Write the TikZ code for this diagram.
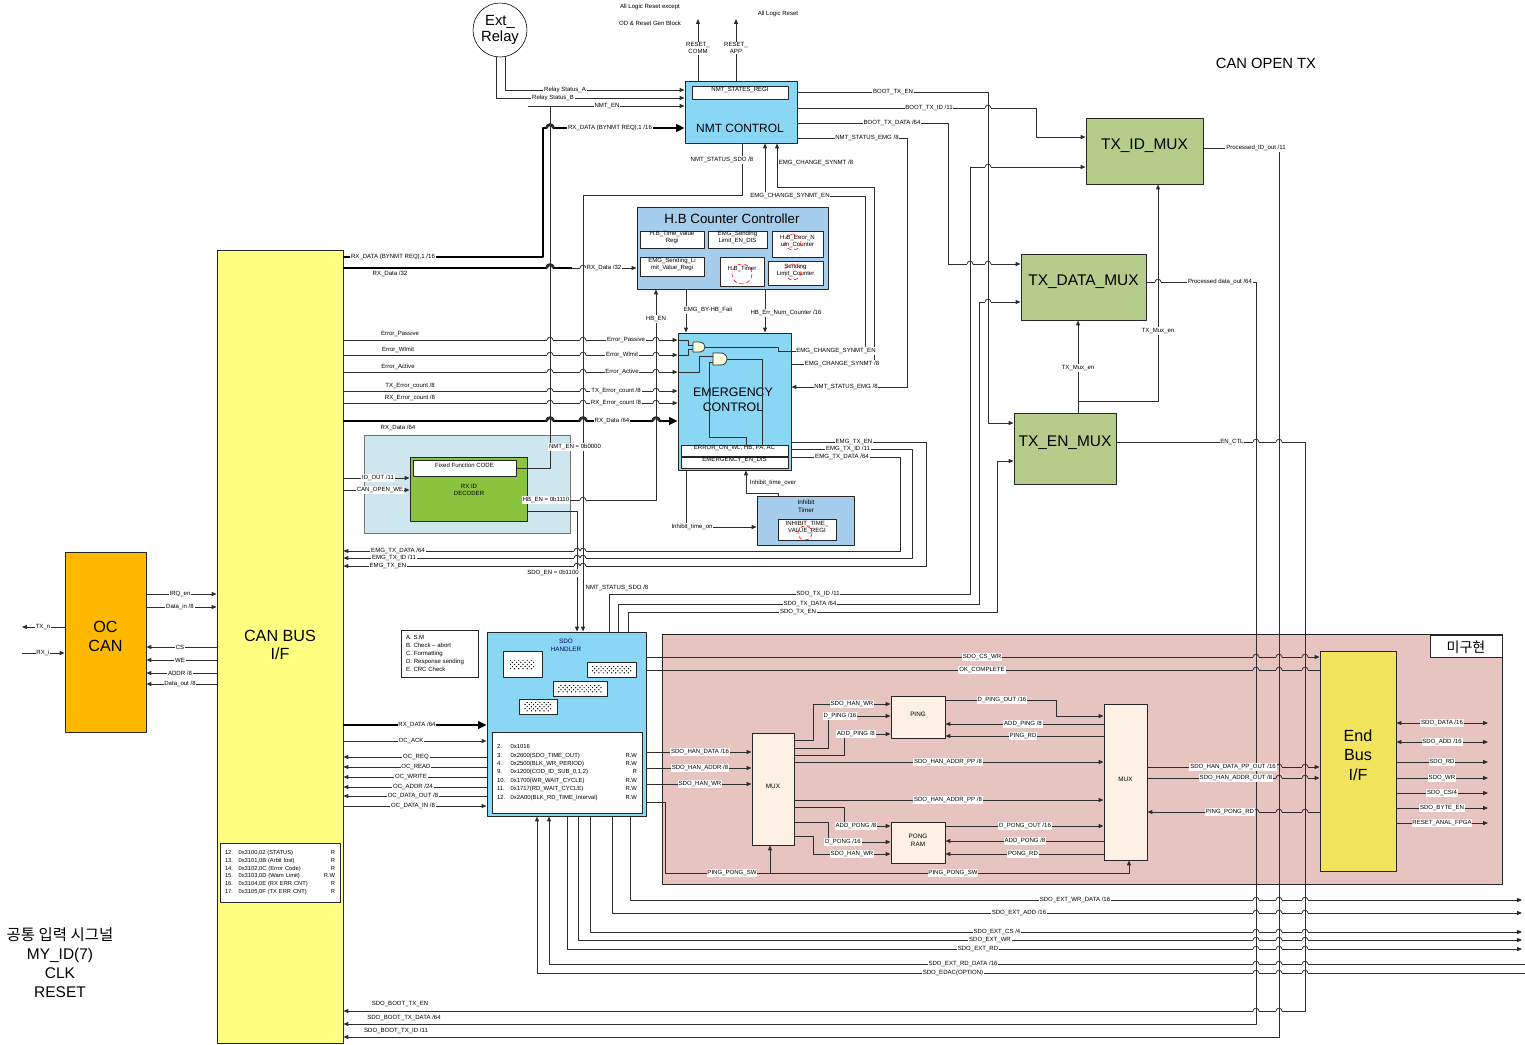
\documentclass[tikz,border=0pt]{standalone}
\usepackage{fontspec}
\setmainfont{Liberation Sans}
\newfontfamily\krfont{Noto Sans CJK KR}
\usetikzlibrary{arrows.meta,positioning,fit,patterns}
\definecolor{nmtblue}{RGB}{138,214,245}
\definecolor{hbblue}{RGB}{166,206,236}
\definecolor{decbg}{RGB}{206,231,238}
\definecolor{decgreen}{RGB}{138,196,62}
\definecolor{muxgreen}{RGB}{181,204,138}
\definecolor{canyellow}{RGB}{255,255,128}
\definecolor{ocorange}{RGB}{255,184,0}
\definecolor{pinkbg}{RGB}{232,196,192}
\definecolor{ramcream}{RGB}{253,240,228}
\definecolor{endyellow}{RGB}{242,228,92}
\definecolor{wirec}{RGB}{45,45,45}
\newcommand{\hop}[3][white]{%
  \fill[#1] (#2-2.9,#3-1.6) rectangle (#2+2.9,#3+1.6);
  \draw[wire] (#2,#3-2.2) -- (#2,#3+2.2);
  \draw[wire] (#2-2.9,#3) arc[start angle=180,end angle=360,radius=2.9];}
\newcommand{\bhop}[2]{%
  \fill[white] (#1-3.4,#2-2.4) rectangle (#1+3.4,#2+2.4);
  \draw[wire] (#1,#2-3) -- (#1,#2+3);
  \draw[wire,line width=2pt] (#1-3.4,#2) arc[start angle=180,end angle=360,radius=3.4];}
\newcommand{\nr}[1]{\makebox[3.4mm][l]{#1}}

\begin{document}
\begin{tikzpicture}[x=0.25mm,y=-0.25mm,line join=round,
  >={Triangle[length=3.4pt,width=2.8pt]},
  blk/.style={draw=black!85,line width=0.7pt,inner sep=0pt,align=center},
  reg/.style={blk,fill=white,line width=0.5pt,font=\fontsize{4.3}{5}\selectfont},
  big/.style={font=\fontsize{11}{13}\selectfont,align=center,inner sep=0pt},
  sig/.style={font=\fontsize{4.3}{5}\selectfont,fill=white,inner sep=0.6pt,align=center},
  txt/.style={font=\fontsize{4.3}{5}\selectfont,inner sep=0.6pt,align=center},
  wire/.style={draw=wirec,line width=0.55pt},
  bus/.style={draw=black,line width=2pt,-{Triangle[length=6pt,width=5.5pt]}},
  hatch/.style={pattern=crosshatch dots,pattern color=black,inner sep=0pt}
]
\useasboundingbox (0,0) rectangle (1525,1044);

% backgrounds
\node[blk,fill=pinkbg,fit={(662,634) (1502,884)}] (pink) {};
\node[blk,fill=white,line width=0.5pt,fit={(1430,635) (1502,657)}] (mgh) {};
\node[font={\krfont\fontsize{10}{11}\selectfont},inner sep=0pt] (mght) at (1466,647) {미구현};
\node[blk,fill=decbg,draw=black!55,fit={(364,435) (570,533)}] (decbox) {};

% NMT control
\node[blk,fill=nmtblue,fit={(685,81) (797,143)}] (nmt) {};
\node[reg,fit={(692,86) (788,99)}] (nmtreg) {NMT\_STATES\_REGI};
\node[font=\fontsize{8.5}{10}\selectfont] (nmtt) at (740,128) {NMT CONTROL};
\node[draw,circle,minimum size=13.5mm,inner sep=0pt,align=center,font=\fontsize{10.5}{11.5}\selectfont] (relay) at (500,30) {Ext\_\\Relay};
\node[txt] (rst1) at (650,7) {All Logic Reset except};
\node[txt] (rst2) at (650,23) {OD \& Reset Gen Block};
\node[txt] (rst3) at (778,14) {All Logic Reset};
\coordinate (rstcomm) at (698,19);
\coordinate (rstapp) at (736,19);
\coordinate (nmtstub) at (528,106);

% TX muxes
\node[blk,fill=muxgreen,fit={(1086,118) (1203,184)},big] (txid) {TX\_ID\_MUX};
\node[blk,fill=muxgreen,fit={(1021,254) (1146,320)},big] (txdata) {TX\_DATA\_MUX};
\node[blk,fill=muxgreen,fit={(1014,413) (1116,484)},big] (txen) {TX\_EN\_MUX};
\node[font=\fontsize{10.5}{12}\selectfont] (cot) at (1266,63) {CAN OPEN TX};

% H.B counter
\node[blk,fill=hbblue,fit={(637,207) (828,289)}] (hb) {};
\node[font=\fontsize{9.5}{11}\selectfont] (hbt) at (732,219) {H.B Counter Controller};
\node[reg,fit={(640,231) (704,248)}] (hbtime) {H.B\_Time\_value\\Regi};
\node[reg,fit={(708,231) (767,248)}] (hbemgen) {EMG\_Sending\\Limit\_EN\_DIS};
\node[reg,fit={(772,231) (823,257)}] (hberr) {H.B\_Error\_N\\um\_Counter};
\node[reg,fit={(640,257) (704,276)}] (hbemgval) {EMG\_Sending\_Li\\mit\_Value\_Regi};
\node[reg,fit={(720,257) (764,286)}] (hbtimer) {H.B\_Timer};
\node[reg,fit={(768,261) (823,285)}] (hbsend) {Sending\\Limit\_Counter};
\draw[red,densely dashed,line width=0.4pt] (793,242) circle[radius=8];
\draw[red,densely dashed,line width=0.4pt] (742,274) circle[radius=10];
\draw[red,densely dashed,line width=0.4pt] (793,272) circle[radius=8];

% emergency control
\node[blk,fill=nmtblue,fit={(678,333) (791,470)}] (emg) {};
\node[font=\fontsize{8.8}{11}\selectfont,align=center] (emgt) at (733,400) {EMERGENCY\\CONTROL};
\node[reg,fit={(681,445) (788,456)}] (emgerr) {ERROR\_ON\_WL, HB, PA, AC};
\node[reg,fit={(681,457) (788,468)}] (emgen) {EMERGENCY\_EN\_DIS};
\node[blk,fill=hbblue,fit={(757,496) (854,545)}] (inh) {};
\node[txt,font=\fontsize{4.5}{5.5}\selectfont] (inht) at (806,506) {Inhibit\\Timer};
\node[reg,fit={(778,519) (836,540)}] (inhreg) {INHIBIT\_TIME\_\\VALUE\_REGI};
\draw[red,densely dashed,line width=0.4pt] (805,533) circle[radius=7];

% rx id decoder
\node[blk,fill=decgreen,fit={(410,457) (527,521)}] (dec) {};
\node[reg,fit={(413,460) (516,476)}] (decfix) {Fixed Function CODE};
\node[txt] (dect) at (469,490) {RX ID\\DECODER};

% can bus and oc can
\node[blk,fill=canyellow,fit={(217,250) (343,1043)}] (canbus) {};
\node[big,font=\fontsize{11.5}{13}\selectfont] (canbust) at (280,645) {CAN BUS\\I/F};
\node[blk,fill=white,line width=0.5pt,fit={(220,843) (340,902)}] (canreg) {};
\node[txt,align=left,text width=27.5mm,font=\fontsize{4.1}{5.6}\selectfont] (canregt) at (canreg.center) {\nr{12.}0x3100,02 (STATUS)\hfill R\\\nr{13.}0x3101,0B (Arbit lost)\hfill R\\\nr{14.}0x3102,0C (Error Code)\hfill R\\\nr{15.}0x3103,0D (Warn Limit)\hfill R.W\\\nr{16.}0x3104,0E (RX ERR CNT)\hfill R\\\nr{17.}0x3105,0F (TX ERR CNT)\hfill R};
\node[blk,fill=ocorange,fit={(65,552) (146,732)},big,font=\fontsize{11.5}{13}\selectfont] (occan) {OC\\CAN};
\node[align=center,font=\fontsize{11}{13.5}\selectfont] (common) at (60,963) {{\krfont 공통 입력 시그널}\\MY\_ID(7)\\CLK\\RESET};
\coordinate (txn) at (22,627);
\coordinate (rxi) at (22,653);

% sdo handler
\node[blk,fill=nmtblue,fit={(487,632) (646,816)}] (sdo) {};
\node[txt,font=\fontsize{4.5}{5.5}\selectfont,text=blue!35!black] (sdot) at (566,645) {SDO\\HANDLER};
\node[reg,fit={(503,651) (542,677)}] (sdoa) {};
\node[hatch,fit={(510,660) (535,669)}] (sdoah) {};
\node[reg,fit={(587,662) (636,677)}] (sdob) {};
\node[hatch,fit={(592,666) (631,673)}] (sdobh) {};
\node[reg,fit={(553,681) (607,696)}] (sdoc) {};
\node[hatch,fit={(558,685) (602,692)}] (sdoch) {};
\node[reg,fit={(519,699) (557,714)}] (sdod) {};
\node[hatch,fit={(524,702) (552,711)}] (sdodh) {};
\node[reg,fit={(492,732) (642,813)}] (sdolist) {};
\node[txt,align=left,text width=35mm,font=\fontsize{4.2}{6}\selectfont] (sdolistt) at (sdolist.center) {\nr{2.}0x1016\\\nr{3.}0x2600(SDO\_TIME\_OUT)\hfill R.W\\\nr{4.}0x2500(BLK\_WR\_PERIOD)\hfill R.W\\\nr{9.}0x1200(COD\_ID\_SUB\_0,1,2)\hfill R\\\nr{10.}0x1700(WR\_WAIT\_CYCLE)\hfill R.W\\\nr{11.}0x1717(RD\_WAIT\_CYCLE)\hfill R.W\\\nr{12.}0x2A00(BLK\_RD\_TIME\_Interval)\hfill R.W};
\node[blk,fill=white,line width=0.5pt,fit={(401,630) (478,677)}] (legend) {};
\node[txt,align=left,anchor=west,font=\fontsize{4.3}{5.7}\selectfont] (legendt) at (405,653) {A. S.M\\B. Check -- abort\\C. Formatting\\D. Response sending\\E. CRC Check};

% ping pong block
\node[blk,fill=ramcream,fit={(752,733) (794,845)},font=\fontsize{4.5}{5.5}\selectfont] (muxl) {MUX};
\node[blk,fill=ramcream,fit={(891,696) (945,738)},font=\fontsize{4.5}{5.5}\selectfont] (ping) {PING};
\node[blk,fill=ramcream,fit={(891,822) (945,863)},font=\fontsize{4.5}{5.5}\selectfont] (pong) {PONG\\RAM};
\node[blk,fill=ramcream,fit={(1104,704) (1147,860)},font=\fontsize{4.5}{5.5}\selectfont] (muxr) {MUX};
\node[blk,fill=endyellow,fit={(1320,651) (1396,871)},big,font=\fontsize{11.5}{14}\selectfont] (endbus) {End\\Bus\\I/F};
\coordinate (ppsw) at (770,873);
\coordinate (rx32end) at (572,268);
\coordinate (sdodata) at (1488,723);
\coordinate (sdoadd) at (1488,742);
\coordinate (sdord) at (1488,762);
\coordinate (sdowr) at (1488,778);
\coordinate (sdocs) at (1488,793);
\coordinate (sdobe) at (1488,808);
\coordinate (rstanal) at (1488,823);
\coordinate (extwrdata) at (1522,900);
\coordinate (extadd) at (1522,913);
\coordinate (extcs) at (1522,932);
\coordinate (extwr) at (1522,940);
\coordinate (extrd) at (1522,949);
\coordinate (extrddata) at (1525,964);
\coordinate (edac) at (1525,973);

% nmt inputs and resets
\draw[wire,->] (nmt.north -| 698,0) -- (rstcomm);
\draw[wire,->] (nmt.north -| 736,0) -- (rstapp);
\draw[wire,->] (relay.-78) |- (nmt.west |- 0,90);
\draw[wire,->] (relay.-98) |- (nmt.west |- 0,98);
\draw[wire,->] (nmtstub) -- (nmt.west |- 0,106);
\draw[wire] (decfix.east) -| (550,106);
\draw[bus] (canbus.east |- 0,257) -| (543,128) -- (nmt.west |- 0,128);
\draw[wire,->] (canbus.east |- 0,268) -- (hb.west |- 0,268);
\draw[bus,-] (canbus.east |- 0,268) -- (rx32end);

% error lines into emergency
\draw[wire,->] (canbus.east |- 0,340) -- (emg.west |- 0,340);
\draw[wire,->] (canbus.east |- 0,355) -- (emg.west |- 0,355);
\draw[wire,->] (canbus.east |- 0,372) -- (emg.west |- 0,372);
\draw[wire,->] (canbus.east |- 0,391) -- (emg.west |- 0,391);
\draw[wire,->] (canbus.east |- 0,403) -- (emg.west |- 0,403);
\draw[bus] (canbus.east |- 0,421) -- (emg.west |- 0,421);

% decoder
\draw[wire,->] (canbus.east |- 0,478) -- (dec.west |- 0,478);
\draw[wire,->] (canbus.east |- 0,490) -- (dec.west |- 0,490);
\draw[wire,->] (dec.east |- 0,500) -| (hb.south -| 656,0);
\draw[wire,->] (dec.east |- 0,511) -| (sdo.north -| 577,0);
\draw[wire,->] (nmt.south -| 742,0) |- (583,195) -- (sdo.north -| 583,0);

% hb, emergency, nmt
\draw[wire,->] (hb.south -| 686,0) -- (emg.north -| 686,0);
\draw[wire,->] (hb.south -| 765,0) -- (emg.north -| 765,0);
\draw[wire,->] (emg.east |- 0,351) -| (865,196) -| (nmt.south -| 765,0);
\draw[wire,->] (emg.east |- 0,364) -| (874,187) -| (nmt.south -| 777,0);
\draw[wire,->] (nmt.east |- 0,138) -| (907,387) -- (emg.east |- 0,387);
\draw[wire,->] (emg.east |- 0,442) -| (926,566) -- (canbus.east |- 0,566);
\draw[wire,->] (emg.east |- 0,449) -| (912,558) -- (canbus.east |- 0,558);
\draw[wire,->] (emg.east |- 0,457) -| (900,551) -- (canbus.east |- 0,551);
\draw[wire,->] (inh.north -| 778,0) |- (746,493) -- (emg.south -| 746,0);
\draw[wire,->] (emg.south -| 686,0) |- (inh.west |- 0,527);

% gates inside emergency
\draw[wire] (emg.west |- 0,340) -- (688,340) |- (693,345);
\draw[wire] (emg.west |- 0,355) -- (688,355) |- (693,349);
\draw[wire] (emg.west |- 0,372) -- (699,372) |- (713,356);
\draw[wire] (705,347) -| (778,351) -- (emg.east |- 0,351);
\draw[wire] (727,359) -| (emgerr.north -| 762,0);
\draw[wire] (emgerr.north -| 746,0) |- (709,437) |- (713,362);
\draw[wire,fill=yellow!12] (693,342) -- (700,342) arc[start angle=270,end angle=450,radius=5] -- (693,352) -- cycle;
\draw[wire,fill=yellow!12] (713,353) -- (721,353) arc[start angle=270,end angle=450,radius=6] -- (713,365) -- cycle;

% sdo to tx muxes
\draw[wire,->] (sdo.north -| 609,0) |- (970,594) |- (txid.west |- 0,167);
\draw[wire,->] (sdo.north -| 618,0) |- (979,604) |- (txdata.west |- 0,302);
\draw[wire,->] (sdo.north -| 628,0) |- (997,612) |- (txen.west |- 0,461);
\draw[wire,->] (nmt.east |- 0,92) -| (988,423) -- (txen.west |- 0,423);
\draw[wire,->] (nmt.east |- 0,108) -| (1036,137) -- (txid.west |- 0,137);
\draw[wire,->] (nmt.east |- 0,123) -| (948,264) -- (txdata.west |- 0,264);
\draw[wire,->] (txen.north -| 1078,0) -- (txdata.south -| 1078,0);
\draw[wire,->] (txen.north -| 1078,0) -- (1078,401) -| (txid.south -| 1158,0);
\draw[wire,->] (txid.east |- 0,148) -| (1279,1037) -- (canbus.east |- 0,1037);
\draw[wire,->] (txdata.east |- 0,282) -| (1256,1024) -- (canbus.east |- 0,1024);
\draw[wire,->] (txen.east |- 0,442) -| (1305,1011) -- (canbus.east |- 0,1011);

% oc can
\draw[wire,->] (occan.west |- 0,627) -- (txn);
\draw[wire,->] (rxi) -- (occan.west |- 0,653);
\draw[wire,->] (occan.east |- 0,594) -- (canbus.west |- 0,594);
\draw[wire,->] (occan.east |- 0,607) -- (canbus.west |- 0,607);
\draw[wire,->] (canbus.west |- 0,647) -- (occan.east |- 0,647);
\draw[wire,->] (canbus.west |- 0,660) -- (occan.east |- 0,660);
\draw[wire,->] (canbus.west |- 0,673) -- (occan.east |- 0,673);
\draw[wire,->] (canbus.west |- 0,684) -- (occan.east |- 0,684);

% sdo left side
\draw[bus] (canbus.east |- 0,725) -- (sdo.west |- 0,725);
\draw[wire,->] (canbus.east |- 0,741) -- (sdo.west |- 0,741);
\draw[wire,->] (sdo.west |- 0,757) -- (canbus.east |- 0,757);
\draw[wire,->] (sdo.west |- 0,767) -- (canbus.east |- 0,767);
\draw[wire,->] (sdo.west |- 0,777) -- (canbus.east |- 0,777);
\draw[wire,->] (sdo.west |- 0,787) -- (canbus.east |- 0,787);
\draw[wire,->] (sdo.west |- 0,796) -- (canbus.east |- 0,796);
\draw[wire,->] (canbus.east |- 0,806) -- (sdo.west |- 0,806);

% sdo right side, ping pong
\draw[wire,->] (sdo.east |- 0,657) -- (endbus.west |- 0,657);
\draw[wire] (sdo.east |- 0,670) -- (endbus.west |- 0,670);
\draw[wire,->] (sdo.east |- 0,752) -- (muxl.west |- 0,752);
\draw[wire,->] (sdo.east |- 0,768) -- (muxl.west |- 0,768);
\draw[wire,->] (sdo.east |- 0,784) -- (muxl.west |- 0,784);
\draw[wire,->] (sdo.east |- 0,802) -| (665,873) -| (muxr.south -| 1129,0);
\draw[wire,->] (ppsw) -- (muxl.south -| 770,0);
\draw[wire,->] (muxl.east |- 0,740) -| (813,704) -- (ping.west |- 0,704);
\draw[wire,->] (muxl.east |- 0,748) -| (828,716) -- (ping.west |- 0,716);
\draw[wire,->] (muxl.east |- 0,755) -| (844,734) -- (ping.west |- 0,734);
\draw[wire,->] (muxl.east |- 0,762) -- (muxr.west |- 0,762);
\draw[wire,->] (muxl.east |- 0,800) -- (muxr.west |- 0,800);
\draw[wire,->] (muxl.east |- 0,807) -| (844,826) -- (pong.west |- 0,826);
\draw[wire,->] (muxl.east |- 0,822) -| (828,842) -- (pong.west |- 0,842);
\draw[wire,->] (muxl.east |- 0,836) -| (813,854) -- (pong.west |- 0,854);
\draw[wire,->] (ping.east |- 0,700) -| (1056,716) -- (muxr.west |- 0,716);
\draw[wire,->] (muxr.west |- 0,724) -- (ping.east |- 0,724);
\draw[wire,->] (muxr.west |- 0,736) -- (ping.east |- 0,736);
\draw[wire,->] (pong.east |- 0,826) -- (muxr.west |- 0,826);
\draw[wire,->] (muxr.west |- 0,841) -- (pong.east |- 0,841);
\draw[wire,->] (muxr.west |- 0,854) -- (pong.east |- 0,854);
\draw[wire,->] (muxr.east |- 0,767) -- (endbus.west |- 0,767);
\draw[wire,->] (muxr.east |- 0,778) -- (endbus.west |- 0,778);
\draw[wire,->] (endbus.west |- 0,812) -- (muxr.east |- 0,812);
\draw[wire,<->] (endbus.east |- 0,723) -- (sdodata);
\draw[wire,<->] (endbus.east |- 0,742) -- (sdoadd);
\draw[wire,->] (endbus.east |- 0,762) -- (sdord);
\draw[wire,->] (endbus.east |- 0,778) -- (sdowr);
\draw[wire,->] (endbus.east |- 0,793) -- (sdocs);
\draw[wire,->] (endbus.east |- 0,808) -- (sdobe);
\draw[wire,->] (endbus.east |- 0,823) -- (rstanal);

% sdo external bus
\draw[wire,->] (sdo.south -| 630,0) |- (extwrdata);
\draw[wire,->] (sdo.south -| 612,0) |- (extadd);
\draw[wire,->] (sdo.south -| 590,0) |- (extcs);
\draw[wire,->] (sdo.south -| 578,0) |- (extwr);
\draw[wire,->] (sdo.south -| 567,0) |- (extrd);
\draw[wire,->] (extrddata) -| (sdo.south -| 549,0);
\draw[wire,->] (edac) -| (sdo.south -| 537,0);

% line hops
\foreach \hx/\hy in {583/268,550/340,583/340,656/340,550/355,583/355,656/355,550/372,583/372,656/372,
  550/391,583/391,656/391,550/403,583/403,656/403,583/500,577/551,583/551,577/558,583/558,577/566,583/566,
  988/108,988/167,970/264,988/264,988/302,1158/282,1256/442,1279/442,1256/1011,1279/1011}
  {\hop{\hx}{\hy}}
\foreach \hy in {900,913,932,940,949,964,973}
  {\hop{1256}{\hy}\hop{1279}{\hy}\hop{1305}{\hy}}
\foreach \hy in {657,670,767,778,812}
  {\hop[pinkbg]{1256}{\hy}\hop[pinkbg]{1279}{\hy}\hop[pinkbg]{1305}{\hy}}
\bhop{550}{128}\bhop{550}{268}\bhop{550}{421}\bhop{583}{421}\bhop{656}{421}

% signal labels
\node[sig] (lrc) at (698,48) {RESET\_\\COMM};
\node[sig] (lra) at (736,48) {RESET\_\\APP};
\node[sig] (lrsa) at (565,90) {Relay Status\_A};
\node[sig] (lrsb) at (553,98) {Relay Status\_B};
\node[sig] (lnmten) at (607,106) {NMT\_EN};
\node[sig] (lbynmt) at (610,128) {RX\_DATA (BYNMT REQ),1 /16};
\node[sig] (lbynmt2) at (393,257) {RX\_DATA (BYNMT REQ),1 /16};
\node[txt] (lrx32a) at (390,274) {RX\_Data /32};
\node[sig] (lrx32b) at (604,268) {RX\_Data /32};
\node[sig] (lbten) at (893,92) {BOOT\_TX\_EN};
\node[sig] (lbtid) at (929,108) {BOOT\_TX\_ID /11};
\node[sig] (lbtdata) at (892,123) {BOOT\_TX\_DATA /64};
\node[sig] (lnse) at (867,138) {NMT\_STATUS\_EMG /8};
\node[sig] (lnss) at (722,160) {NMT\_STATUS\_SDO /8};
\node[txt] (lecs) at (816,163) {EMG\_CHANGE\_SYNMT /8};
\node[sig] (lecen) at (790,196) {EMG\_CHANGE\_SYNMT\_EN};
\node[sig] (lecen2) at (836,351) {EMG\_CHANGE\_SYNMT\_EN};
\node[sig] (lecs2) at (842,364) {EMG\_CHANGE\_SYNMT /8};
\node[sig] (lnse2) at (846,387) {NMT\_STATUS\_EMG /8};
\node[sig] (lhbf) at (708,310) {EMG\_BY-HB\_Fail};
\node[sig] (lhbc) at (786,313) {HB\_Err\_Num\_Counter /16};
\node[sig] (lhben) at (656,319) {HB\_EN};
\node[txt] (lep) at (400,334) {Error\_Passive};
\node[txt] (lew) at (398,350) {Error\_Wlmit};
\node[txt] (lea) at (398,367) {Error\_Active};
\node[txt] (ltxe) at (410,386) {TX\_Error\_count /8};
\node[txt] (lrxe) at (410,398) {RX\_Error\_count /8};
\node[txt] (lrx64) at (398,428) {RX\_Data /64};
\node[sig] (lep2) at (626,340) {Error\_Passive};
\node[sig] (lew2) at (622,355) {Error\_Wlmit};
\node[sig] (lea2) at (622,372) {Error\_Active};
\node[sig] (ltxe2) at (616,391) {TX\_Error\_count /8};
\node[sig] (lrxe2) at (616,403) {RX\_Error\_count /8};
\node[sig] (lrx642) at (612,421) {RX\_Data /64};
\node[sig] (lnmten2) at (575,447) {NMT\_EN = 0b0000};
\node[sig] (lid) at (378,478) {ID\_OUT /11};
\node[sig] (lcw) at (380,490) {CAN\_OPEN\_WE};
\node[sig] (lhben2) at (546,500) {HB\_EN = 0b1110};
\node[sig] (lsdoen) at (553,573) {SDO\_EN = 0b1100};
\node[txt] (lnss2) at (617,588) {NMT\_STATUS\_SDO /8};
\node[sig] (linhov) at (773,483) {Inhibit\_time\_over};
\node[sig] (linhon) at (692,527) {Inhibit\_time\_on};
\node[sig] (lemgen) at (854,442) {EMG\_TX\_EN};
\node[sig] (lemgid) at (848,449) {EMG\_TX\_ID /11};
\node[sig] (lemgdata) at (842,457) {EMG\_TX\_DATA /64};
\node[sig] (lemgdata2) at (398,551) {EMG\_TX\_DATA /64};
\node[sig] (lemgid2) at (394,558) {EMG\_TX\_ID /11};
\node[sig] (lemgen2) at (388,566) {EMG\_TX\_EN};
\node[sig] (lsti) at (818,594) {SDO\_TX\_ID /11};
\node[sig] (lstd) at (810,604) {SDO\_TX\_DATA /64};
\node[sig] (lste) at (798,612) {SDO\_TX\_EN};
\node[sig] (ltxm1) at (1078,368) {TX\_Mux\_en};
\node[sig] (ltxm2) at (1158,331) {TX\_Mux\_en};
\node[sig] (lpid) at (1256,148) {Processed\_ID\_out /11};
\node[sig] (lpdata) at (1220,282) {Processed data\_out /64};
\node[sig] (lenctl) at (1232,442) {EN\_CTL};
\node[txt] (lsbe) at (400,1004) {SDO\_BOOT\_TX\_EN};
\node[txt] (lsbd) at (404,1018) {SDO\_BOOT\_TX\_DATA /64};
\node[txt] (lsbi) at (396,1031) {SDO\_BOOT\_TX\_ID /11};
\node[sig] (ltx) at (43,627) {TX\_n};
\node[sig] (lrx) at (43,653) {RX\_i};
\node[sig] (lirq) at (180,594) {IRQ\_en};
\node[sig] (ldin) at (180,607) {Data\_in /8};
\node[sig] (lcs) at (180,647) {CS};
\node[sig] (lwe) at (180,660) {WE};
\node[sig] (laddr) at (180,673) {ADDR /8};
\node[sig] (ldout) at (180,684) {Data\_out /8};
\node[sig] (lrxd) at (417,725) {RX\_DATA /64};
\node[sig] (lack) at (411,741) {OC\_ACK};
\node[sig] (lreq) at (416,757) {OC\_REQ};
\node[sig] (lread) at (416,767) {OC\_READ};
\node[sig] (lwrite) at (411,777) {OC\_WRITE};
\node[sig] (loaddr) at (413,787) {OC\_ADDR /24};
\node[sig] (lodo) at (413,796) {OC\_DATA\_OUT /8};
\node[sig] (lodi) at (413,806) {OC\_DATA\_IN /8};
\node[sig] (lcswr) at (982,657) {SDO\_CS\_WR};
\node[sig] (lok) at (982,670) {OK\_COMPLETE};
\node[sig] (lhd) at (700,752) {SDO\_HAN\_DATA /16};
\node[sig] (lha) at (700,768) {SDO\_HAN\_ADDR /8};
\node[sig] (lhw) at (700,784) {SDO\_HAN\_WR};
\node[sig] (lpwr) at (852,704) {SDO\_HAN\_WR};
\node[sig] (ldping) at (840,716) {D\_PING /16};
\node[sig] (laping) at (856,734) {ADD\_PING /8};
\node[sig] (lpp1) at (948,762) {SDO\_HAN\_ADDR\_PP /8};
\node[sig] (lpp2) at (948,800) {SDO\_HAN\_ADDR\_PP /8};
\node[sig] (lapong) at (856,826) {ADD\_PONG /8};
\node[sig] (ldpong) at (843,842) {D\_PONG /16};
\node[sig] (lgwr) at (852,854) {SDO\_HAN\_WR};
\node[sig] (ldpo) at (1002,700) {D\_PING\_OUT /16};
\node[sig] (lapo) at (1023,724) {ADD\_PING /8};
\node[sig] (lprd) at (1023,736) {PING\_RD};
\node[sig] (ldgo) at (1025,826) {D\_PONG\_OUT /16};
\node[sig] (lago) at (1025,841) {ADD\_PONG /8};
\node[sig] (lgrd) at (1023,854) {PONG\_RD};
\node[sig] (lpps1) at (732,873) {PING\_PONG\_SW};
\node[sig] (lpps2) at (953,873) {PING\_PONG\_SW};
\node[sig] (lhdo) at (1233,767) {SDO\_HAN\_DATA\_PP\_OUT /16};
\node[sig] (lhao) at (1236,778) {SDO\_HAN\_ADDR\_OUT /8};
\node[sig] (lpprd) at (1230,812) {PING\_PONG\_RD};
\node[sig] (lsdata) at (1442,723) {SDO\_DATA /16};
\node[sig] (lsadd) at (1442,742) {SDO\_ADD /16};
\node[sig] (lsrd) at (1442,762) {SDO\_RD};
\node[sig] (lswr) at (1442,778) {SDO\_WR};
\node[sig] (lscs) at (1442,793) {SDO\_CS/4};
\node[sig] (lsbyte) at (1442,808) {SDO\_BYTE\_EN};
\node[sig] (lrsta) at (1442,823) {RESET\_ANAL\_FPGA};
\node[sig] (lewd) at (1075,900) {SDO\_EXT\_WR\_DATA /16};
\node[sig] (leadd) at (1019,913) {SDO\_EXT\_ADD /16};
\node[sig] (lecs4) at (997,932) {SDO\_EXT\_CS /4};
\node[sig] (lewr) at (990,940) {SDO\_EXT\_WR};
\node[sig] (lerd) at (978,949) {SDO\_EXT\_RD};
\node[sig] (lerdd) at (963,964) {SDO\_EXT\_RD\_DATA /16};
\node[sig] (ledac) at (953,973) {SDO\_EDAC(OPTION)};
\end{tikzpicture}
\end{document}
